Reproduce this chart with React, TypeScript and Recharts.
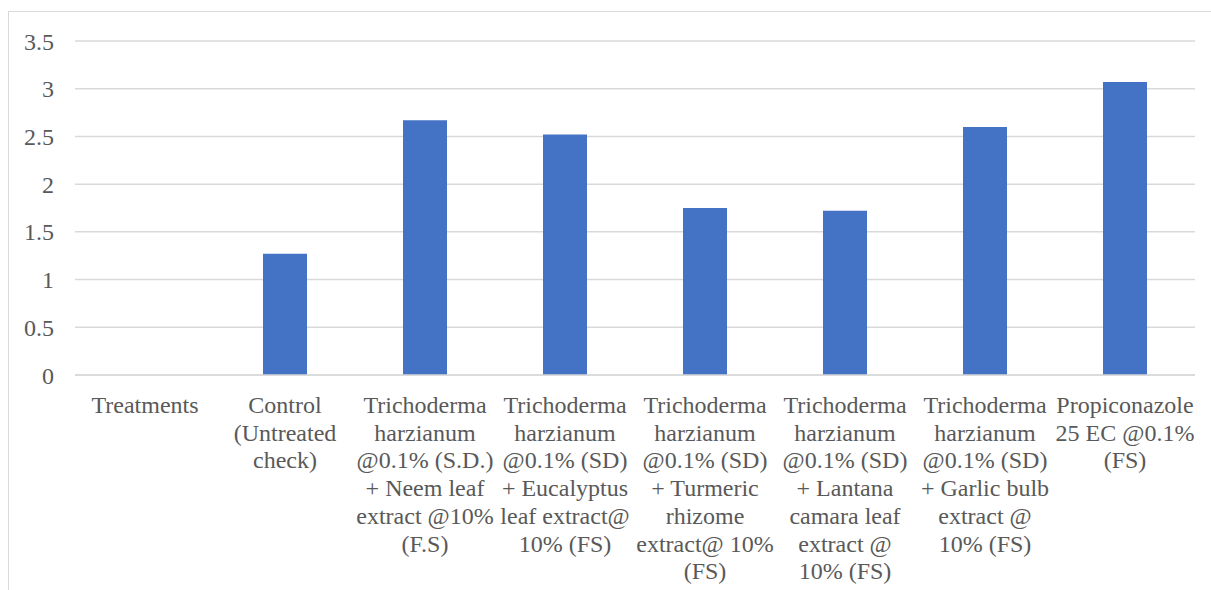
import { BarChart, Bar, XAxis, YAxis, CartesianGrid } from 'recharts'

const categories = [
  'Treatments',
  'Control\n(Untreated\ncheck)',
  'Trichoderma\nharzianum\n@0.1% (S.D.)\n+ Neem leaf\nextract @10%\n(F.S)',
  'Trichoderma\nharzianum\n@0.1% (SD)\n+ Eucalyptus\nleaf extract@\n10% (FS)',
  'Trichoderma\nharzianum\n@0.1% (SD)\n+ Turmeric\nrhizome\nextract@ 10%\n(FS)',
  'Trichoderma\nharzianum\n@0.1% (SD)\n+ Lantana\ncamara leaf\nextract @\n10% (FS)',
  'Trichoderma\nharzianum\n@0.1% (SD)\n+ Garlic bulb\nextract @\n10% (FS)',
  'Propiconazole\n25 EC @0.1%\n(FS)',
]

const values: (number | null)[] = [null, 1.27, 2.67, 2.52, 1.75, 1.72, 2.6, 3.07]

const yTicks = [0, 0.5, 1, 1.5, 2, 2.5, 3, 3.5]

const FONT = 'Liberation Serif, DejaVu Serif, serif'

const chartData = categories.map((name, i) => ({ name, value: values[i] }))

function CategoryTick(props: any) {
  const { x, y, payload } = props
  const lines = String(payload.value).split('\n')
  return (
    <text
      x={x}
      y={y + 38}
      textAnchor="middle"
      fill="#595959"
      fontSize={24}
      style={{ fontFamily: FONT }}
    >
      {lines.map((line, i) => (
        <tspan key={i} x={x} dy={i === 0 ? 0 : 27.7}>
          {line}
        </tspan>
      ))}
    </text>
  )
}

export default function App() {
  return (
    <div
      style={{
        position: 'relative',
        width: 1211,
        height: 590,
        overflow: 'hidden',
        background: '#fff',
        fontFamily: FONT,
      }}
    >
      <style>{'body{margin:0;overflow:hidden} svg text{font-family:"Liberation Serif",serif}'}</style>
      <div
        style={{
          position: 'absolute',
          left: 8,
          top: 11,
          width: 1220,
          height: 600,
          borderLeft: '1.5px solid #d9d9d9',
          borderTop: '1.5px solid #d9d9d9',
        }}
      />
      <div style={{ position: 'absolute', left: 0, top: 0 }}>
        <BarChart
          width={1211}
          height={590}
          data={chartData}
          margin={{ top: 41, right: 16, left: 0, bottom: 15 }}
          barSize={44}
        >
          <CartesianGrid vertical={false} stroke="#d9d9d9" strokeWidth={1.5} />
          <XAxis
            dataKey="name"
            interval={0}
            height={200}
            tickLine={false}
            axisLine={{ stroke: '#d9d9d9', strokeWidth: 1.5 }}
            tickSize={0}
            tickMargin={0}
            tick={<CategoryTick />}
          />
          <YAxis
            width={75}
            domain={[0, 3.5]}
            ticks={yTicks}
            axisLine={false}
            tickLine={false}
            tickSize={0}
            tickMargin={21}
            tick={{ fill: '#595959', fontSize: 24, fontFamily: FONT }}
          />
          <Bar dataKey="value" fill="#4472c4" isAnimationActive={false} />
        </BarChart>
      </div>
    </div>
  )
}
